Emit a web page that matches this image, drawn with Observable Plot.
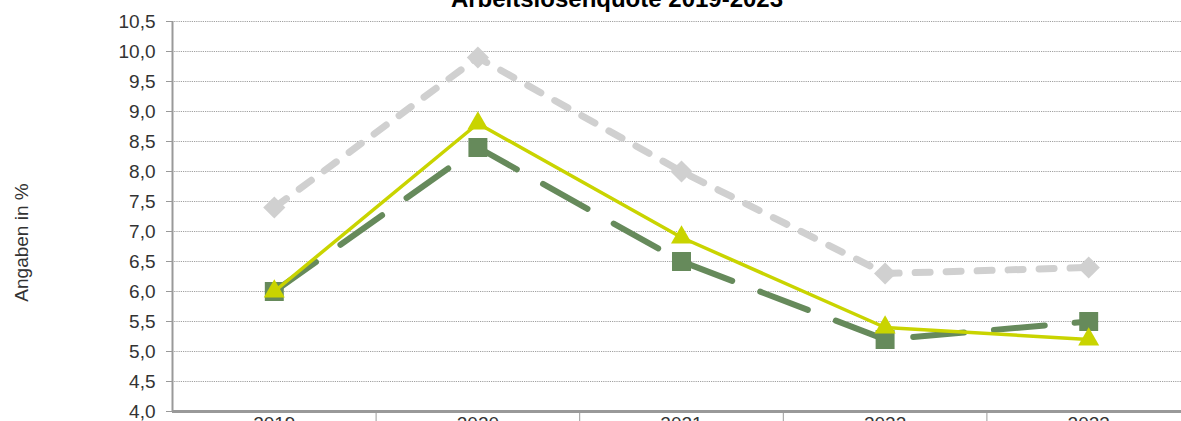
<!DOCTYPE html>
<html><head><meta charset="utf-8">
<script src="https://cdn.jsdelivr.net/npm/d3@7"></script>
<script src="https://cdn.jsdelivr.net/npm/@observablehq/plot@0.6"></script>
<style>
html,body{margin:0;padding:0;overflow:hidden;background:#fff;width:1181px;height:421px;}
#wrap{position:relative;width:1181px;height:421px;overflow:hidden;font-family:"Liberation Sans",Arial,sans-serif;}
#title{position:absolute;left:0;width:1234px;text-align:center;top:-13px;line-height:24px;font-weight:bold;font-size:24px;color:#000;white-space:nowrap;}
#chart{position:absolute;left:0;top:0;width:1190px;}
#chart svg{max-width:none !important;}
</style></head><body>
<div id="wrap"><div id="chart"></div><div id="title">Arbeitslosenquote 2019-2023</div></div>
<script>
const years = [2019, 2020, 2021, 2022, 2023];
const seriesGray = [7.4, 9.9, 8.0, 6.3, 6.4];   // diamonds, dashed light grey
const seriesGreen = [6.0, 8.4, 6.5, 5.2, 5.5];  // squares, long-dashed dark green
const seriesYellow = [6.0, 8.8, 6.9, 5.4, 5.2]; // triangles, solid yellow-green
const yTicks = [4.0, 4.5, 5.0, 5.5, 6.0, 6.5, 7.0, 7.5, 8.0, 8.5, 9.0, 9.5, 10.0, 10.5];
const yTitle = "Angaben in %";

const toRows = (vals) => years.map((year, i) => ({year, value: vals[i]}));
const gray = toRows(seriesGray), green = toRows(seriesGreen), yellow = toRows(seriesYellow);
const bounds = years.slice(0, -1).map(y => y + 0.5);
const fmt = d => d.toFixed(1).replace(".", ",");

const chart = Plot.plot({
  width: 1190,
  height: 445,
  marginLeft: 172,
  marginRight: 0,
  marginTop: 21,
  marginBottom: 34,
  style: {fontFamily: "'Liberation Sans', Arial, sans-serif", fontSize: "19px", color: "#222", background: "white", overflow: "visible", maxWidth: "none"},
  x: {type: "linear", domain: [years[0] - 0.5, years[years.length - 1] + 0.5]},
  y: {domain: [yTicks[0], yTicks[yTicks.length - 1]]},
  marks: [
    Plot.ruleY(yTicks.slice(1), {stroke: "#a0a0a0", strokeWidth: 1, strokeDasharray: "1.2 1"}),
    Plot.axisY({ticks: yTicks, tickFormat: fmt, tickSize: 6, tickPadding: 11, stroke: "#999", label: null, fontSize: 19, fill: "#333"}),
    Plot.axisX({ticks: years, tickFormat: d => String(d), tickSize: 0, tickPadding: 5, label: null, fontSize: 19, fill: "#333"}),
    Plot.axisX({ticks: bounds, tickFormat: () => "", tickSize: 16, stroke: "#999", label: null}),
    Plot.ruleX([years[0] - 0.5], {stroke: "#999", strokeWidth: 2}),
    Plot.ruleY([yTicks[0]], {stroke: "#999", strokeWidth: 3}),
    Plot.text([yTitle], {frameAnchor: "left", textAnchor: "middle", dx: -151, dy: 26, rotate: -90, fontSize: 19, fill: "#333"}),
    Plot.line(gray, {x: "year", y: "value", stroke: "#d0d0d0", strokeWidth: 7, strokeDasharray: "15 16", strokeLinecap: "round"}),
    Plot.dot(gray, {x: "year", y: "value", symbol: "diamond2", r: 10, fill: "#d0d0d0", stroke: "none"}),
    Plot.line(green, {x: "year", y: "value", stroke: "#668a5b", strokeWidth: 6, strokeDasharray: "51 30", strokeLinecap: "round"}),
    Plot.dot(green, {x: "year", y: "value", symbol: "square", r: 10.7, fill: "#668a5b", stroke: "none"}),
    Plot.line(yellow, {x: "year", y: "value", stroke: "#c9d400", strokeWidth: 3.5}),
    Plot.dot(yellow, {x: "year", y: "value", symbol: "triangle", r: 7.8, fill: "#c9d400", stroke: "none"})
  ]
});
document.getElementById("chart").appendChild(chart);
</script>
</body></html>
